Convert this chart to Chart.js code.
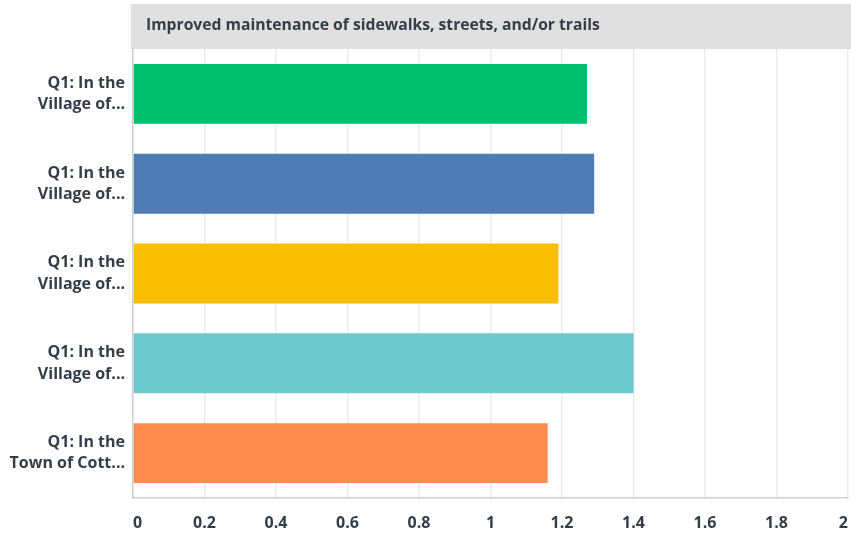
<!DOCTYPE html>
<html>
<head>
<meta charset="utf-8">
<script src="https://cdn.jsdelivr.net/npm/chart.js@4/dist/chart.umd.min.js"></script>
<style>
html,body{margin:0;padding:0;background:#fff;}
#wrap{width:851px;height:537px;position:relative;}
</style>
</head>
<body>
<div id="wrap"><canvas id="c" width="851" height="537"></canvas></div>
<script>
const chartTitle = 'Improved maintenance of sidewalks, streets, and/or trails';
const categories = [
  ['Q1: In the', 'Village of...'],
  ['Q1: In the', 'Village of...'],
  ['Q1: In the', 'Village of...'],
  ['Q1: In the', 'Village of...'],
  ['Q1: In the', 'Town of Cott...']
];
const values = [1.27, 1.29, 1.19, 1.40, 1.16];
const barColors = ['#00bf6f', '#507cb6', '#f9be00', '#6bc8cd', '#ff8b4f'];
const xTicks = [0, 0.2, 0.4, 0.6, 0.8, 1, 1.2, 1.4, 1.6, 1.8, 2];

const fontFam = '"Open Sans", Lato, sans-serif';
const textColor = '#333e48';

const titleBar = {
  id: 'titleBar',
  beforeDraw(chart) {
    const ctx = chart.ctx;
    const left = chart.chartArea.left - 2;
    ctx.save();
    ctx.fillStyle = '#e0e0e0';
    ctx.fillRect(left, 4, chart.width - left, 45);
    ctx.fillStyle = textColor;
    ctx.font = 'bold 15.7px ' + fontFam;
    ctx.textBaseline = 'middle';
    ctx.textAlign = 'left';
    ctx.fillText(chartTitle, left + 15, 26);
    ctx.restore();
  }
};

new Chart(document.getElementById('c'), {
  type: 'bar',
  data: {
    labels: categories,
    datasets: [{
      data: values,
      backgroundColor: barColors,
      borderWidth: 0,
      barPercentage: 0.667,
      categoryPercentage: 1
    }]
  },
  options: {
    indexAxis: 'y',
    responsive: false,
    animation: false,
    layout: { padding: { top: 49, right: 3, left: 0, bottom: 0 } },
    plugins: { legend: { display: false }, tooltip: { enabled: false }, title: { display: false } },
    scales: {
      x: {
        min: 0, max: 2,
        afterBuildTicks(scale) { scale.ticks = xTicks.map(v => ({ value: v })); },
        afterFit(scale) { scale.height = 39; scale.paddingRight = 0; scale.paddingLeft = 0; },
        grid: { color: '#ebebeb', lineWidth: 1.5, drawTicks: false },
        border: { color: '#d0d0d0', width: 1.5 },
        ticks: {
          color: textColor,
          font: { family: fontFam, size: 16, weight: 'bold' },
          padding: 16,
          align: 'inner',
          maxRotation: 0,
          callback: v => String(v)
        }
      },
      y: {
        afterFit(scale) { scale.width = 133; },
        grid: { display: false, drawTicks: false },
        border: { color: '#d0d0d0', width: 1.5 },
        ticks: {
          color: textColor,
          font: { family: fontFam, size: 16, weight: 'bold', lineHeight: 1.33 },
          padding: 8
        }
      }
    }
  },
  plugins: [titleBar]
});
</script>
</body>
</html>
